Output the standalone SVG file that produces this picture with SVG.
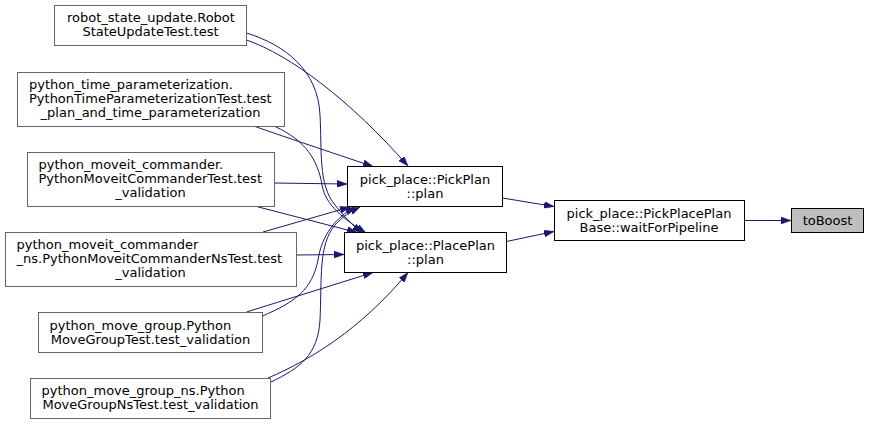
<svg xmlns="http://www.w3.org/2000/svg" width="869" height="424" viewBox="0 0 869 424">
<style>
  .bg { fill: #ffffff; }
  .node rect { fill: #ffffff; stroke: #666666; stroke-width: 1; }
  .node.doc rect { stroke: #000000; }
  .node.root rect { fill: #bfbfbf; stroke: #000000; }
  .node text { font-family: "DejaVu Sans", sans-serif; font-size: 13px; fill: #000000; }
  .node text.c { text-anchor: middle; }
  .edges path { fill: none; stroke: #191970; stroke-width: 1; marker-end: url(#arrow); }
</style>
<defs>
  <marker id="arrow" viewBox="0 0 10 7" markerWidth="10" markerHeight="7" refX="10" refY="3.5" orient="auto" markerUnits="userSpaceOnUse">
    <path d="M0,0 L10,3.5 L0,7 z" fill="#191970" stroke="#191970" stroke-width="0.5"/>
  </marker>
</defs>
<rect class="bg" x="0" y="0" width="869" height="424"/>
<g id="edges" class="edges">
  <path d="M744.5,220.5 L791,220.5"/>
  <path d="M502.5,198 L554,206.5"/>
  <path d="M506.5,241.5 L554,231.5"/>
  <path d="M246.5,40 C290,55 350,100 408,166"/>
  <path d="M246.5,33 C285,45 318,70 320,115 C322,150 318,185 335,205 C343,215 352,225 362,233"/>
  <path d="M255,126.5 C285,137 330,152 373,166.5"/>
  <path d="M275,126.5 C305,140 318,160 322,185 C325,205 345,220 366,233"/>
  <path d="M274.5,183 L347,184"/>
  <path d="M256.5,206.5 L357,232.5"/>
  <path d="M263,232 L350,207"/>
  <path d="M296.5,255 L344,254.5"/>
  <path d="M262.5,316 C295,302 312,290 318,260 C322,235 335,218 355,207"/>
  <path d="M246.5,312 L373,272.5"/>
  <path d="M271,382 C300,368 318,355 320,320 C322,280 318,245 335,225 C342,217 350,212 360,207"/>
  <path d="M268,378 C310,360 360,330 408,272.5"/>
</g>
<g id="n1" class="node">
  <rect x="54.5" y="5.5" width="192" height="40"/>
  <text x="67" y="22">robot_state_update.Robot</text>
  <text class="c" x="150.5" y="36">StateUpdateTest.test</text>
</g>
<g id="n2" class="node">
  <rect x="17.5" y="72.5" width="267" height="54"/>
  <text x="29" y="89">python_time_parameterization.</text>
  <text x="29" y="103">PythonTimeParameterizationTest.test</text>
  <text class="c" x="150.5" y="117">_plan_and_time_parameterization</text>
</g>
<g id="n3" class="node">
  <rect x="27.5" y="152.5" width="247" height="54"/>
  <text x="38.5" y="169">python_moveit_commander.</text>
  <text x="38.5" y="183">PythonMoveitCommanderTest.test</text>
  <text class="c" x="150.5" y="197">_validation</text>
</g>
<g id="n4" class="node">
  <rect x="5.5" y="232.5" width="291" height="54"/>
  <text x="16.5" y="249">python_moveit_commander</text>
  <text x="16.5" y="263">_ns.PythonMoveitCommanderNsTest.test</text>
  <text class="c" x="150.5" y="277">_validation</text>
</g>
<g id="n5" class="node">
  <rect x="38.5" y="312.5" width="224" height="40"/>
  <text x="49.5" y="330">python_move_group.Python</text>
  <text class="c" x="150.5" y="344">MoveGroupTest.test_validation</text>
</g>
<g id="n6" class="node">
  <rect x="30.5" y="378.5" width="240" height="40"/>
  <text x="41.5" y="395">python_move_group_ns.Python</text>
  <text class="c" x="150.5" y="409">MoveGroupNsTest.test_validation</text>
</g>
<g id="pickplan" class="node doc">
  <rect x="347.5" y="166.5" width="155" height="40"/>
  <text class="c" x="425" y="184">pick_place::PickPlan</text>
  <text class="c" x="425" y="198">::plan</text>
</g>
<g id="placeplan" class="node doc">
  <rect x="344.5" y="232.5" width="162" height="40"/>
  <text class="c" x="425.5" y="250">pick_place::PlacePlan</text>
  <text class="c" x="425.5" y="264">::plan</text>
</g>
<g id="waitforpipeline" class="node doc">
  <rect x="554.5" y="200.5" width="190" height="40"/>
  <text class="c" x="649" y="217.5">pick_place::PickPlacePlan</text>
  <text class="c" x="649" y="231.5">Base::waitForPipeline</text>
</g>
<g id="toboost" class="node root">
  <rect x="791.5" y="208.5" width="72" height="24"/>
  <text class="c" x="827.5" y="224.5">toBoost</text>
</g>
</svg>
